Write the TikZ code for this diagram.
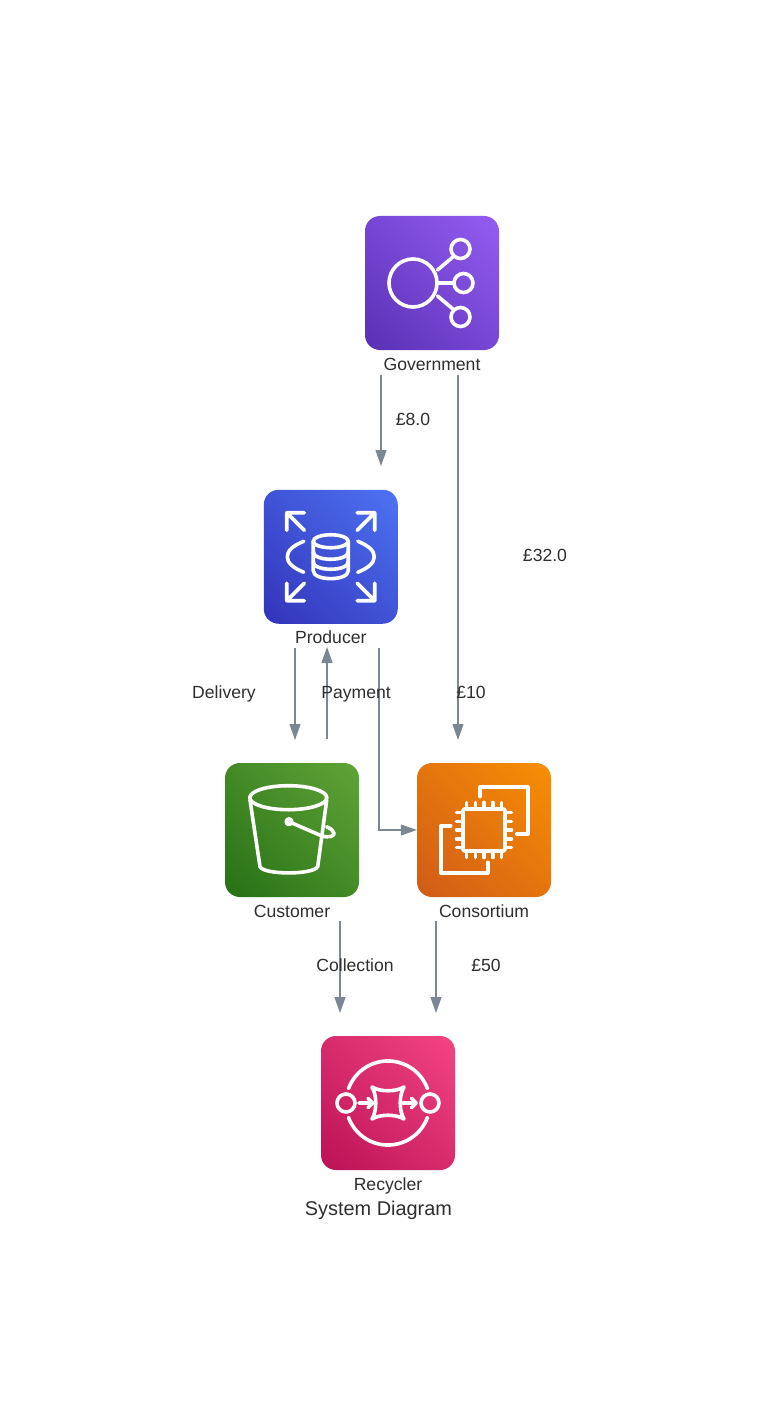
\documentclass[tikz,border=0pt]{standalone}
\usepackage{fontspec}
\setmainfont{Liberation Sans}
\usetikzlibrary{positioning,arrows.meta,shadings}
\definecolor{edgegrey}{HTML}{7B8894}
\definecolor{textgrey}{HTML}{2F2F2F}
\definecolor{violetlow}{HTML}{4D27A8}
\definecolor{violethigh}{HTML}{A166FF}
\definecolor{bluelow}{HTML}{2E27AD}
\definecolor{bluehigh}{HTML}{527FFF}
\definecolor{greenlow}{HTML}{1B660F}
\definecolor{greenhigh}{HTML}{6CAE3E}
\definecolor{orangelow}{HTML}{C8511B}
\definecolor{orangehigh}{HTML}{FF9900}
\definecolor{pinklow}{HTML}{B0084D}
\definecolor{pinkhigh}{HTML}{FF4F8B}
\tikzset{
    iconbox/.style 2 args={rectangle,rounded corners=15pt,minimum size=134pt,inner sep=0pt,shade,
        lower left=#1!86!#2,upper right=#2!86!#1,upper left=#1!50!#2,lower right=#1!50!#2},
    iconline/.style={draw=white,line width=3.6pt,line join=round,line cap=round},
    nametext/.style={font=\fontsize{17.6}{20}\selectfont,text=textgrey,inner sep=0pt,text height=12.5pt,text depth=0.5pt},
    flow/.style={-{Triangle[length=16pt,width=11pt]},color=edgegrey,line width=1.1pt},
}
\begin{document}
\begin{tikzpicture}[x=1pt,y=-1pt,on grid]
        \useasboundingbox (0,0) rectangle (760,1420);
        \fill[white] (0,0) rectangle (760,1420);
        % boxes
        \node[iconbox={violetlow}{violethigh}] (gov) at (432,283) {};
        \node[iconbox={bluelow}{bluehigh}] (prod) [below left=273.75pt and 101.25pt of gov] {};
        \node[iconbox={greenlow}{greenhigh}] (cust) [below left=273.25pt and 38.75pt of prod] {};
        \node[iconbox={orangelow}{orangehigh}] (cons) [right=192pt of cust] {};
        \node[iconbox={pinklow}{pinkhigh}] (recy) [below right=273pt and 96pt of cust] {};
        % names under the boxes
        \node[nametext] (gov_name) [below=81pt of gov] {Government};
        \node[nametext] (prod_name) [below=81pt of prod] {Producer};
        \node[nametext] (cust_name) [below=81pt of cust] {Customer};
        \node[nametext] (cons_name) [below=81pt of cons] {Consortium};
        \node[nametext] (recy_name) [below=81pt of recy] {Recycler};
        \node[nametext,font=\fontsize{19.9}{22}\selectfont] (title) [below left=25pt and 9.5pt of recy_name] {System Diagram};
        % connector ends
        \coordinate[below left=92pt and 51pt of gov] (gov_a);
        \coordinate[below left=183pt and 51pt of gov] (prod_top);
        \coordinate[below right=92pt and 26pt of gov] (gov_b);
        \coordinate[below right=457pt and 26pt of gov] (cons_top);
        \coordinate[below left=91.25pt and 35.75pt of prod] (prod_a);
        \coordinate[below left=183.25pt and 35.75pt of prod] (cust_top_a);
        \coordinate[below left=90.25pt and 3.75pt of prod] (prod_in);
        \coordinate[below left=182.25pt and 3.75pt of prod] (cust_top_b);
        \coordinate[below right=91.25pt and 48.25pt of prod] (prod_b);
        \coordinate[below right=91pt and 48pt of cust] (cust_out);
        \coordinate[below right=183pt and 48pt of cust] (recy_a);
        \coordinate[below left=91pt and 48pt of cons] (cons_out);
        \coordinate[below left=183pt and 48pt of cons] (recy_b);
        \path[flow]
            (gov_a) edge (prod_top)
            (gov_b) edge (cons_top)
            (prod_a) edge (cust_top_a)
            (cust_top_b) edge (prod_in)
            (cust_out) edge (recy_a)
            (cons_out) edge (recy_b);
        \draw[flow] (prod_b) |- (cons.west);
        % flow labels
        \node[nametext] (l_eight) at (413,419) {£8.0};
        \node[nametext] (l_thirtytwo) at (545,555) {£32.0};
        \node[nametext] (l_delivery) at (224,692) {Delivery};
        \node[nametext] (l_payment) at (356,692) {Payment};
        \node[nametext] (l_ten) at (471,692) {£10};
        \node[nametext] (l_collection) at (355,965) {Collection};
        \node[nametext] (l_fifty) at (486,965) {£50};
        % government icon
        \begin{scope}[shift={(gov.center)},every path/.append style={iconline}]
            \draw (-19,0) circle (24);
            \draw (28.5,-34) circle (9.5);
            \draw (31.5,0) circle (9.5);
            \draw (28.5,34) circle (9.5);
            \draw (5.5,-13) -- (21.5,-26.5);
            \draw (6.5,0) -- (22,0);
            \draw (5.5,13) -- (21.5,26.5);
        \end{scope}
        % producer icon
        \begin{scope}[shift={(prod.center)},every path/.append style={iconline}]
            \draw (0,-15.5) ellipse (17.5 and 6.5);
            \draw (-17.5,-15.5) -- (-17.5,14) .. controls (-17.5,24.5) and (17.5,24.5) .. (17.5,14) -- (17.5,-15.5);
            \draw (-17.5,-5) .. controls (-17.5,5) and (17.5,5) .. (17.5,-5);
            \draw (-17.5,5) .. controls (-17.5,15) and (17.5,15) .. (17.5,5);
            \draw (-27,-15.5) .. controls (-38,-11) and (-43.5,-6) .. (-43.5,0) .. controls (-43.5,6) and (-38,11) .. (-27,15.5);
            \draw (27,-15.5) .. controls (38,-11) and (43.5,-6) .. (43.5,0) .. controls (43.5,6) and (38,11) .. (27,15.5);
            \draw (-26.5,-44) -- (-44,-44) -- (-44,-26.5) (-44,-44) -- (-26.5,-26.5);
            \draw (26.5,-44) -- (44,-44) -- (44,-26.5) (44,-44) -- (26.5,-26.5);
            \draw (-26.5,44) -- (-44,44) -- (-44,26.5) (-44,44) -- (-26.5,26.5);
            \draw (26.5,44) -- (44,44) -- (44,26.5) (44,44) -- (26.5,26.5);
        \end{scope}
        % customer icon
        \begin{scope}[shift={(cust.center)},every path/.append style={iconline}]
            \draw (-3.7,-32.3) ellipse (38.5 and 12);
            \draw (-42,-30) -- (-32,36.7) .. controls (-28,45) and (21,45) .. (25.7,36.7) -- (34.7,-30);
            \draw (-3,-8.3) circle (2.8);
            \draw (-3,-8.3) -- (30,6) .. controls (37,8) and (43,6) .. (42,3) .. controls (41,0) and (38,-2) .. (34.7,-3.3);
        \end{scope}
        % consortium icon
        \begin{scope}[shift={(cons.center)},every path/.append style={iconline}]
            \draw[rounded corners=1.5pt] (-21,-21) rectangle (21,21);
            \foreach \p in {-17.5,-8.7,0,8.7,17.5} {
                \draw (\p,-21) -- (\p,-27.5);
                \draw (\p,21) -- (\p,27.5);
                \draw (-21,\p) -- (-27.5,\p);
                \draw (21,\p) -- (27.5,\p);
            }
            \draw (-4,-33.3) -- (-4,-43.3) -- (43.7,-43.3) -- (43.7,4) -- (32.7,4);
            \draw (-33.3,-4.3) -- (-43.3,-4.3) -- (-43.3,42.7) -- (3.7,42.7) -- (3.7,32.3);
        \end{scope}
        % recycler icon
        \begin{scope}[shift={(recy.center)},every path/.append style={iconline}]
            \draw (-39.5,-14.4) arc[start angle=200,end angle=340,radius=42];
            \draw (-39.5,14.4) arc[start angle=160,end angle=20,radius=42];
            \draw (-42,0) circle (9);
            \draw (42,0) circle (9);
            \draw (-16,-16) .. controls (-8,-11) and (8,-11) .. (16,-16) .. controls (11,-8) and (11,8) .. (16,16) .. controls (8,11) and (-8,11) .. (-16,16) .. controls (-11,8) and (-11,-8) .. (-16,-16) -- cycle;
            \draw (-29,0) -- (-15.5,0) (-20,-4.7) -- (-15.5,0) -- (-20,4.7);
            \draw (14.7,0) -- (28,0) (23.5,-4.7) -- (28,0) -- (23.5,4.7);
        \end{scope}
\end{tikzpicture}
\end{document}
